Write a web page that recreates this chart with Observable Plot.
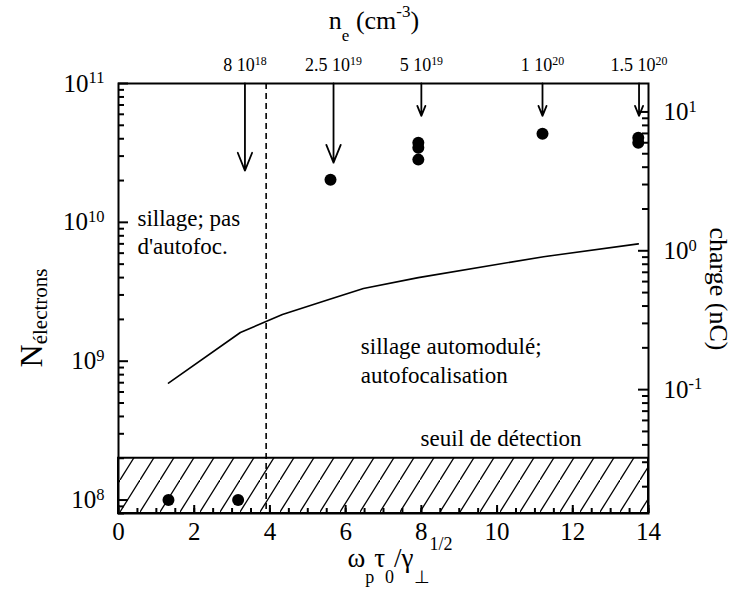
<!DOCTYPE html>
<html>
<head>
<meta charset="utf-8">
<script src="https://cdn.jsdelivr.net/npm/d3@7"></script>
<script src="https://cdn.jsdelivr.net/npm/@observablehq/plot@0.6"></script>
<style>
  body { margin: 0; background: #fff; }
  #chart svg { display: block; }
</style>
</head>
<body>
<div id="chart"></div>
<script>
// ---------- data ----------
const electronsPerNC = 6.24e9;                 // 1 nC = 6.24e9 electrons (right axis)

const pointX = [1.32, 3.16, 5.6, 7.92, 7.92, 7.92, 11.2, 13.73, 13.73];
const pointY = [1e8, 1e8, 2.03e10, 3.74e10, 3.45e10, 2.83e10, 4.35e10, 4.07e10, 3.74e10];

const curveX = [1.32, 3.22, 4.33, 5.6, 6.47, 7.92, 11.23, 13.73];
const curveY = [6.95e8, 1.61e9, 2.17e9, 2.8e9, 3.34e9, 4.0e9, 5.66e9, 7.0e9];

const densityLabels = ["8 10^18", "2.5 10^19", "5 10^19", "1 10^20", "1.5 10^20"];
const densityX = [3.34, 5.68, 8.0, 11.2, 13.75];
const arrowTipY = [2.36e10, 2.69e10, 5.85e10, 5.85e10, 5.85e10];

const thresholdX = [3.9];          // dashed boundary
const detectionLimit = [2e8];      // hatched "seuil de détection" zone top

const annotationText = ["sillage; pas\nd'autofoc.", "sillage automodulé;\nautofocalisation", "seuil de détection"];
const annotationX = [0.5, 6.4, 7.98];
const annotationY = [8.7e9, 1.03e9, 2.85e8];

const xTicks = [0, 2, 4, 6, 8, 10, 12, 14];
const xMinorTicks = d3.range(0, 14.001, 0.5);
const yTicks = [1e8, 1e9, 1e10, 1e11];
const yMinorTicks = [7, 8, 9, 10].flatMap(e => [2,3,4,5,6,7,8,9].map(k => k * 10 ** e)).filter(v => v >= 8e7 && v <= 1e11);
const chargeTicks = [0.1, 1, 10];
const chargeMinorTicks = [-2, -1, 0].flatMap(e => [2,3,4,5,6,7,8,9].map(k => k * 10 ** e));

// ---------- derived tables ----------
const points = pointX.map((x, i) => ({x, y: pointY[i]}));
const curve = curveX.map((x, i) => ({x, y: curveY[i]}));
const density = densityX.map((x, i) => ({x, label: densityLabels[i], tip: arrowTipY[i]}));
const notes = annotationText.map((t, i) => ({t, x: annotationX[i], y: annotationY[i]}));
const toE = c => c * electronsPerNC;
const chargeE = chargeTicks.map(toE);
const chargeMinorE = chargeMinorTicks.map(toE).filter(v => v >= 8e7 && v <= 1e11);

const W = 735, H = 600, ML = 118, MR = 87, MT = 83, MB = 87;
const plotW = W - ML - MR, plotH = H - MT - MB;
const FONT = "'Liberation Serif', serif";
const tickStyle = {stroke: "black", strokeWidth: 2};

const chart = Plot.plot({
  width: W,
  height: H,
  marginLeft: ML,
  marginRight: MR,
  marginTop: MT,
  marginBottom: MB,
  style: {fontFamily: FONT, fontSize: "25px", color: "black", background: "white"},
  x: {domain: [0, 14]},
  y: {type: "log", domain: [8e7, 1e11]},
  marks: [
    // hatched detection zone
    Plot.rect(detectionLimit, {x1: 0, x2: 14, y1: 8e7, y2: d => d, fill: "url(#hatch)", stroke: "black", strokeWidth: 2}),
    // dashed boundary
    Plot.ruleX(thresholdX, {stroke: "black", strokeWidth: 1.6, strokeDasharray: "6,4"}),
    // model curve
    Plot.line(curve, {x: "x", y: "y", stroke: "black", strokeWidth: 1.6}),
    // measured points
    Plot.dot(points, {x: "x", y: "y", r: 6, fill: "black", stroke: "none"}),
    // density arrows
    Plot.arrow(density, {x1: "x", x2: "x", y1: 1e11, y2: "tip", stroke: "black", strokeWidth: 1.8, headLength: 16, headAngle: 44}),
    Plot.text(density, {x: "x", frameAnchor: "top", text: "label", lineAnchor: "bottom", dy: -13, fontSize: 18}),
    // annotations
    Plot.text(notes, {x: "x", y: "y", text: "t", textAnchor: "start", lineAnchor: "middle", lineHeight: 1.25, fontSize: 23}),
    // bottom axis labels
    Plot.axisX({ticks: xTicks, tickSize: 0, tickPadding: 9, label: null, fontSize: 25}),
    // left axis labels
    Plot.axisY({ticks: yTicks, tickSize: 0, tickPadding: 14, label: null, fontSize: 25,
      tickFormat: d => "10^" + Math.round(Math.log10(d))}),
    // right axis labels (charge, nC)
    Plot.text(chargeTicks, {y: toE, frameAnchor: "right", textAnchor: "start", dx: 15, fontSize: 25,
      text: c => "10^" + Math.round(Math.log10(c))}),
    // inward ticks on the frame
    Plot.tickX(xMinorTicks, {x: d => d, insetTop: plotH - 5, ...tickStyle}),
    Plot.tickX(xTicks, {x: d => d, insetTop: plotH - 8, ...tickStyle}),
    Plot.tickY(yTicks, {y: d => d, insetRight: plotW - 10, ...tickStyle}),
    Plot.tickY(yMinorTicks, {y: d => d, insetRight: plotW - 6, ...tickStyle}),
    Plot.tickY(chargeE, {y: d => d, insetLeft: plotW - 10, ...tickStyle}),
    Plot.tickY(chargeMinorE, {y: d => d, insetLeft: plotW - 6, ...tickStyle}),
    Plot.frame({stroke: "black", strokeWidth: 2})
  ]
});

document.getElementById("chart").appendChild(chart);
const svg = d3.select(chart);

// hatch pattern
const defs = svg.insert("defs", ":first-child");
const pat = defs.append("pattern").attr("id", "hatch").attr("patternUnits", "userSpaceOnUse")
  .attr("width", 20).attr("height", 32);
pat.append("rect").attr("width", 20).attr("height", 32).attr("fill", "white");
pat.append("line").attr("x1", -1).attr("y1", 33.6).attr("x2", 21).attr("y2", -1.6)
  .attr("stroke", "black").attr("stroke-width", 1.3);

// superscripts in tick labels ("10^11" -> 10 with raised 11)
svg.selectAll("text").each(function() {
  if (this.querySelector("tspan")) return;
  const s = this.textContent;
  if (!s.includes("^")) return;
  const [base, exp] = s.split("^");
  this.textContent = base;
  d3.select(this).append("tspan").attr("dy", "-0.5em").attr("font-size", "0.66em").text(exp);
});

// rich text titles
function addRich({x, y, rotate = 0, anchor = "middle", size, parts}) {
  const t = svg.append("text")
    .attr("transform", `translate(${x},${y}) rotate(${rotate})`)
    .attr("text-anchor", anchor)
    .attr("font-family", FONT)
    .attr("font-size", size)
    .attr("fill", "black");
  let cur = 0;
  for (const [str, shift, fs] of parts) {
    t.append("tspan").attr("dy", shift - cur).attr("font-size", fs || size).text(str);
    cur = shift;
  }
}

addRich({x: 374, y: 29, size: 26, parts: [["n", 0], ["e", 12, 17], [" (cm", 0], ["-3", -12, 17], [")", 0]]});
addRich({x: 400, y: 567, size: 27, parts: [["ω", 0], ["p", 16, 18], ["τ", 0], ["0", 16, 18], ["/γ", 0], ["⊥", 16, 18], ["1/2", -17, 18]]});
addRich({x: 42, y: 318, rotate: -90, size: 32, parts: [["N", 0], ["électrons", 5, 21]]});
addRich({x: 710, y: 289, rotate: 90, size: 26, parts: [["charge (nC)", 0]]});
</script>
</body>
</html>
